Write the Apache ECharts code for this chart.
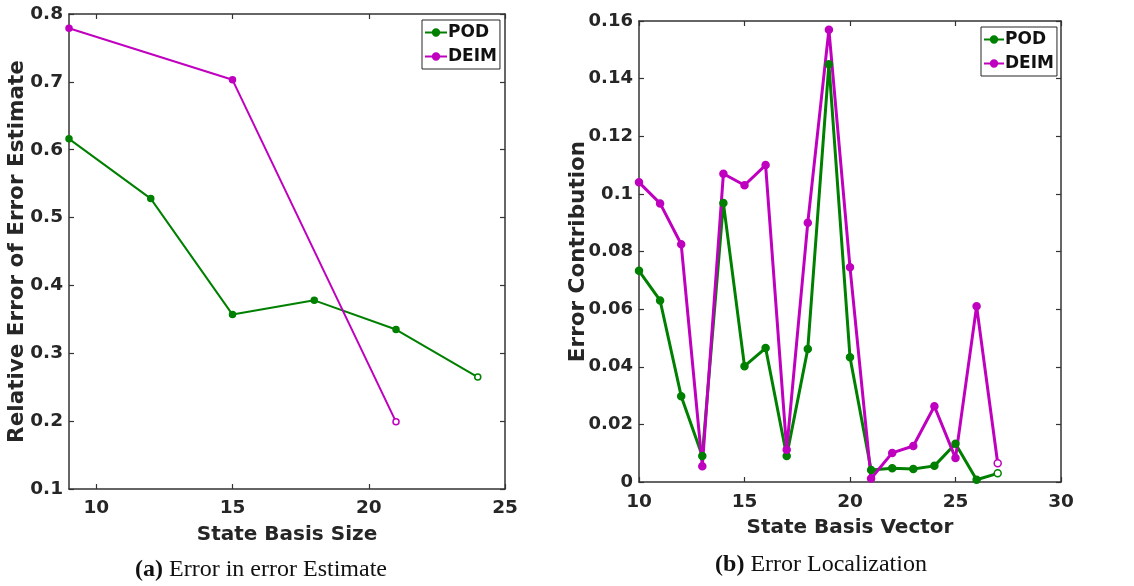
<!DOCTYPE html>
<html>
<head>
<meta charset="utf-8">
<script src="https://cdn.jsdelivr.net/npm/echarts@6/dist/echarts.min.js"></script>
<style>
  html, body { margin: 0; padding: 0; background: #fff; }
  #chart { width: 1134px; height: 586px; }
</style>
</head>
<body>
<div id="chart"></div>
<script>
// (a) relative error of the error estimate vs. state basis size
const sizeTicks = [10, 15, 20, 25];
const estTicksY = [0.1, 0.2, 0.3, 0.4, 0.5, 0.6, 0.7, 0.8];
const podSizes = [9, 12, 15, 18, 21, 24];
const podEstimate = [0.616, 0.528, 0.357, 0.378, 0.335, 0.265];
const deimSizes = [9, 15, 21];
const deimEstimate = [0.779, 0.703, 0.199];

// (b) error contribution of each state basis vector
const vectorTicks = [10, 15, 20, 25, 30];
const contribTicksY = [0, 0.02, 0.04, 0.06, 0.08, 0.1, 0.12, 0.14, 0.16];
const vectors = [10, 11, 12, 13, 14, 15, 16, 17, 18, 19, 20, 21, 22, 23, 24, 25, 26, 27];
const podContrib = [0.0733, 0.063, 0.0298, 0.009, 0.0968, 0.0402, 0.0465, 0.009, 0.0462,
  0.145, 0.0433, 0.0042, 0.0048, 0.0045, 0.0056, 0.0133, 0.0008, 0.003];
const deimContrib = [0.104, 0.0967, 0.0825, 0.0055, 0.107, 0.103, 0.110, 0.0112, 0.090,
  0.157, 0.0745, 0.0012, 0.0101, 0.0125, 0.0263, 0.0083, 0.061, 0.0065];

const GREEN = '#008000';
const MAGENTA = '#bf00bf';
const AXIS = '#333333';
const TEXT = '#262626';
const FONT = 'DejaVu Sans';

function pairs(xs, ys) {
  return ys.map((v, i) => {
    const p = { value: [xs[i], v] };
    // the final point of each curve is drawn as an open marker
    if (i === ys.length - 1) p.itemStyle = { color: '#fff' };
    return p;
  });
}

function xAxisPair(gridIndex, min, max, ticks, name, nameGap, labelMargin) {
  return [
    {
      type: 'value', gridIndex, min, max, name, nameLocation: 'middle', nameGap,
      nameMoveOverlap: false,
      nameTextStyle: { fontFamily: FONT, fontWeight: 'bold', fontSize: 20, color: TEXT },
      axisLine: { show: true, lineStyle: { color: AXIS, width: 1.5 } },
      axisTick: { show: true, inside: true, length: 5, customValues: ticks, lineStyle: { color: AXIS, width: 1.2 } },
      axisLabel: { customValues: ticks, fontFamily: FONT, fontWeight: 'bold', fontSize: 18.5, color: TEXT, margin: labelMargin },
      splitLine: { show: false }
    },
    {
      type: 'value', gridIndex, min, max, position: 'top',
      axisLine: { show: true, onZero: false, lineStyle: { color: AXIS, width: 1.5 } },
      axisTick: { show: true, inside: true, length: 5, customValues: ticks, lineStyle: { color: AXIS, width: 1.2 } },
      axisLabel: { show: false },
      splitLine: { show: false }
    }
  ];
}

function yAxisPair(gridIndex, min, max, ticks, name, nameGap, labelSize) {
  return [
    {
      type: 'value', gridIndex, min, max, name, nameLocation: 'middle', nameGap,
      nameMoveOverlap: false,
      nameTextStyle: { fontFamily: FONT, fontWeight: 'bold', fontSize: 21.5, color: TEXT },
      axisLine: { show: true, lineStyle: { color: AXIS, width: 1.5 } },
      axisTick: { show: true, inside: true, length: 5, customValues: ticks, lineStyle: { color: AXIS, width: 1.2 } },
      axisLabel: { customValues: ticks, fontFamily: FONT, fontWeight: 'bold', fontSize: labelSize, color: TEXT, margin: 6 },
      splitLine: { show: false }
    },
    {
      type: 'value', gridIndex, min, max, position: 'right',
      axisLine: { show: true, onZero: false, lineStyle: { color: AXIS, width: 1.5 } },
      axisTick: { show: true, inside: true, length: 5, customValues: ticks, lineStyle: { color: AXIS, width: 1.2 } },
      axisLabel: { show: false },
      splitLine: { show: false }
    }
  ];
}

function legendAt(left, top, itemWidth) {
  return {
    left, top, orient: 'vertical',
    data: ['POD', 'DEIM'],
    backgroundColor: '#fff',
    borderColor: '#262626', borderWidth: 1, borderRadius: 0,
    padding: [4, 3, 4, 2],
    itemGap: 7, itemWidth, itemHeight: 8,
    selectedMode: false,
    textStyle: { fontFamily: FONT, fontWeight: 'bold', fontSize: 17, color: '#111', padding: [0, 0, 0, -4] }
  };
}

function lineSeries(name, color, xAxisIndex, yAxisIndex, data, width, size) {
  return {
    type: 'line', name, xAxisIndex, yAxisIndex, data,
    symbol: 'circle', symbolSize: size, showAllSymbol: true,
    lineStyle: { color, width },
    itemStyle: { color, borderColor: color, borderWidth: 1.5 },
    emphasis: { disabled: true },
    animation: false
  };
}

function caption(x, y, tag, text) {
  return {
    type: 'text',
    style: {
      x, y, align: 'center', verticalAlign: 'middle',
      text: '{b|' + tag + '} ' + text,
      rich: { b: { fontFamily: 'Liberation Serif', fontWeight: 'bold', fontSize: 24, fill: '#111' } },
      font: '24px "Liberation Serif"', fill: '#111'
    }
  };
}

const chart = echarts.init(document.getElementById('chart'));
chart.setOption({
  backgroundColor: '#fff',
  animation: false,
  grid: [
    { left: 69, right: 629, top: 14, bottom: 97 },
    { left: 639, right: 73, top: 21, bottom: 104 }
  ],
  xAxis: [
    ...xAxisPair(0, 9, 25, sizeTicks, 'State Basis Size', 36, 10),
    ...xAxisPair(1, 10, 30, vectorTicks, 'State Basis Vector', 36, 11)
  ],
  yAxis: [
    ...yAxisPair(0, 0.1, 0.8, estTicksY, 'Relative Error of Error Estimate', 41, 18.5),
    ...yAxisPair(1, 0, 0.16, contribTicksY, 'Error Contribution', 50, 18)
  ],
  legend: [legendAt(422, 20, 22), legendAt(981, 27, 20)],
  series: [
    lineSeries('POD', GREEN, 0, 0, pairs(podSizes, podEstimate), 2, 6),
    lineSeries('DEIM', MAGENTA, 0, 0, pairs(deimSizes, deimEstimate), 2, 6),
    lineSeries('POD', GREEN, 2, 2, pairs(vectors, podContrib), 3, 7),
    lineSeries('DEIM', MAGENTA, 2, 2, pairs(vectors, deimContrib), 3, 7)
  ],
  graphic: [
    caption(261, 570, '(a)', 'Error in error Estimate'),
    caption(821, 565, '(b)', 'Error Localization')
  ]
});
</script>
</body>
</html>
